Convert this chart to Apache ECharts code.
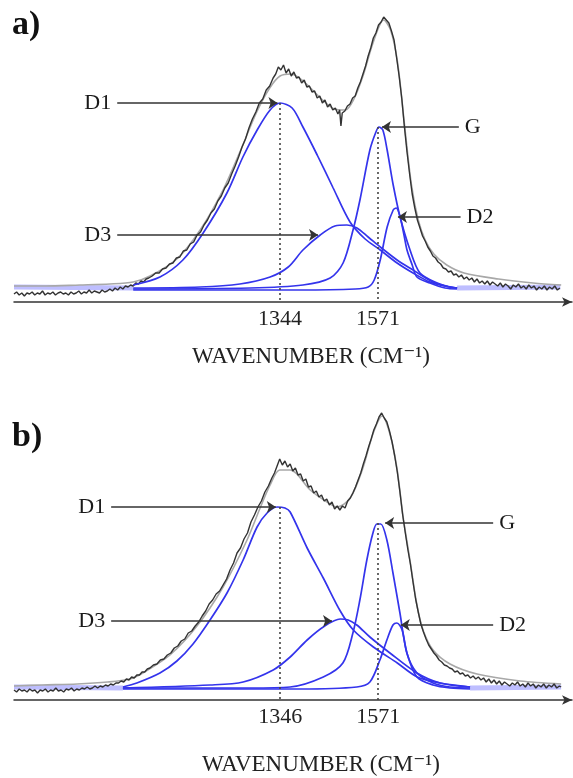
<!DOCTYPE html>
<html><head><meta charset="utf-8">
<script src="https://cdn.jsdelivr.net/npm/echarts@6/dist/echarts.min.js"></script>
<style>html,body{margin:0;padding:0;background:#fff}#c{width:573px;height:778px}</style>
</head><body><div id="c"></div>
<script>
// ---------- text ----------
const panelLabels = ['a)', 'b)'];
const axisTitle = 'WAVENUMBER (CM\u207B\u00B9)';
const tickValuesA = [1344, 1571];
const tickValuesB = [1346, 1571];
const peakNames = ['D1', 'G', 'D3', 'D2'];

// ---------- panel a data: [wavenumber, intensity] ----------
const spectrumA = [[728,8],[734,10],[740,7],[746,9],[752,6],[758,9],[764,8],[770,10],[776,7],[782,9],[788,8],[794,11],[800,7],[806,9],[812,8],[818,10],[824,7],[830,9],[836,10],[842,8],[848,9],[854,7],[860,10],[866,8],[872,9],[878,11],[884,8],[890,10],[896,9],[902,12],[908,9],[914,11],[920,10],[926,9],[932,12],[938,10],[944,11],[950,13],[956,11],[962,14],[968,12],[974,15],[980,13],[986,16],[992,15],[998,17],[1004,16],[1010,19],[1016,18],[1022,21],[1028,20],[1034,23],[1040,24],[1048,26],[1056,29],[1064,29],[1072,33],[1080,34],[1088,38],[1096,39],[1104,44],[1112,45],[1120,51],[1128,52],[1136,58],[1144,60],[1152,67],[1160,70],[1168,77],[1176,82],[1184,89],[1192,93],[1200,101],[1208,106],[1216,114],[1224,119],[1232,128],[1240,136],[1248,145],[1256,155],[1264,163],[1272,174],[1280,183],[1288,190],[1296,199],[1304,203],[1312,212],[1320,216],[1328,224],[1334,228],[1340,235],[1346,232],[1352,237],[1358,229],[1364,233],[1370,226],[1376,230],[1382,224],[1388,225],[1394,219],[1400,222],[1406,215],[1412,216],[1418,210],[1424,211],[1430,204],[1436,206],[1442,199],[1448,202],[1454,195],[1460,198],[1466,192],[1472,194],[1478,188],[1482,192],[1485,176],[1488,189],[1494,191],[1500,196],[1506,198],[1512,204],[1518,206],[1524,214],[1530,220],[1536,228],[1542,236],[1548,246],[1554,254],[1560,264],[1566,269],[1572,277],[1578,280],[1584,285],[1590,282],[1596,279],[1602,271],[1608,262],[1614,244],[1620,225],[1626,203],[1632,175],[1638,150],[1644,128],[1650,108],[1656,94],[1662,82],[1668,74],[1674,66],[1680,61],[1686,55],[1692,51],[1698,46],[1704,44],[1710,40],[1716,38],[1722,34],[1728,33],[1734,30],[1740,31],[1746,27],[1752,28],[1758,25],[1764,27],[1770,23],[1776,25],[1782,22],[1788,24],[1794,20],[1800,23],[1806,19],[1812,21],[1818,18],[1824,21],[1830,17],[1836,20],[1842,18],[1848,16],[1854,19],[1860,15],[1866,18],[1872,16],[1878,13],[1884,17],[1890,15],[1896,18],[1902,14],[1908,16],[1914,13],[1920,17],[1926,14],[1932,16],[1938,12],[1944,15],[1950,13],[1956,16],[1962,12],[1968,15],[1974,13],[1980,16],[1986,12],[1992,14]];
const envelopeA = [[728,16],[800,16],[880,17],[950,18],[1004,20],[1043,26],[1105,43],[1159,72],[1212,112],[1251,150],[1290,190],[1320,214],[1344,226],[1370,228],[1400,220],[1440,203],[1470,193],[1495,192],[1515,203],[1536,226],[1560,260],[1584,282],[1600,272],[1616,240],[1632,178],[1648,118],[1664,82],[1680,62],[1700,48],[1730,37],[1770,29],[1850,23],[1930,19],[1995,17]];
const baselineA = [[728,15],[1004,14],[1005,'-'],[1753,'-'],[1754,14],[1993,15]];
const d1A = [[1004,17],[1066,25],[1119,42],[1166,69],[1221,109],[1258,145],[1291,172],[1321,192],[1344,199],[1372,194],[1397,175],[1430,147],[1467,114],[1506,80],[1541,63],[1576,52],[1615,39],[1652,29],[1691,20],[1726,16],[1754,14]];
const d3A = [[1004,14],[1159,15],[1251,18],[1321,25],[1363,35],[1397,52],[1437,67],[1471,76],[1499,77],[1522,74],[1548,65],[1576,55],[1615,42],[1652,32],[1698,20],[1726,16],[1754,14]];
const gA = [[1004,13],[1275,14],[1397,17],[1460,24],[1490,39],[1513,72],[1529,102],[1552,152],[1566,170],[1573,175],[1582,172],[1592,152],[1606,117],[1622,85],[1645,52],[1668,29],[1708,19],[1738,15],[1754,14]];
const d2A = [[1004,12],[1390,12],[1518,13],[1548,15],[1562,22],[1576,42],[1592,75],[1606,92],[1613,94],[1622,85],[1631,67],[1638,52],[1650,37],[1661,25],[1691,19],[1726,14],[1754,13]];
const arrowsA = [[[967,199],[1338,199]], [[1758,175],[1580,175]], [[967,67],[1432,67]], [[1762,85],[1617,85]]];
const dottedA = [[1344,199],[1571,175]];

// ---------- panel b data ----------
const spectrumB = [[735,10],[741,8],[747,11],[753,9],[759,10],[765,8],[771,11],[777,9],[783,10],[789,7],[795,10],[801,9],[807,11],[813,8],[819,10],[825,9],[831,12],[837,9],[843,10],[849,8],[855,11],[861,10],[867,12],[873,9],[879,11],[885,10],[891,12],[897,11],[903,13],[909,11],[915,12],[921,14],[927,12],[933,14],[939,13],[945,15],[951,14],[957,16],[963,15],[969,17],[975,17],[981,19],[987,18],[993,21],[999,20],[1005,23],[1011,22],[1017,25],[1023,25],[1029,28],[1035,28],[1041,31],[1047,32],[1055,35],[1063,36],[1071,40],[1079,41],[1087,45],[1095,47],[1103,52],[1111,54],[1119,59],[1127,61],[1135,67],[1143,69],[1151,74],[1159,78],[1167,84],[1175,89],[1183,96],[1191,100],[1199,106],[1207,109],[1215,115],[1223,121],[1231,130],[1239,137],[1247,147],[1255,152],[1263,161],[1271,167],[1279,178],[1287,185],[1295,193],[1303,199],[1311,208],[1319,214],[1327,222],[1333,227],[1339,234],[1345,241],[1351,235],[1357,239],[1363,233],[1369,236],[1375,229],[1381,232],[1387,225],[1393,226],[1399,219],[1405,221],[1411,213],[1417,214],[1423,207],[1429,209],[1435,203],[1441,205],[1447,199],[1453,201],[1459,195],[1465,198],[1471,191],[1477,194],[1483,190],[1489,194],[1495,192],[1501,199],[1507,202],[1513,207],[1519,213],[1525,220],[1531,227],[1537,236],[1543,244],[1549,253],[1555,261],[1561,270],[1567,276],[1573,283],[1579,287],[1585,282],[1591,278],[1597,269],[1603,258],[1609,244],[1615,228],[1621,208],[1627,186],[1633,168],[1639,151],[1645,136],[1651,118],[1657,101],[1663,88],[1669,76],[1675,68],[1681,61],[1687,55],[1693,51],[1699,47],[1705,44],[1711,40],[1717,38],[1723,35],[1729,34],[1735,32],[1741,31],[1747,28],[1753,29],[1759,26],[1765,27],[1771,24],[1777,25],[1783,22],[1789,24],[1795,21],[1801,23],[1807,20],[1813,22],[1819,18],[1825,21],[1831,17],[1837,20],[1843,16],[1849,19],[1855,15],[1861,18],[1867,16],[1873,14],[1879,17],[1885,15],[1891,18],[1897,14],[1903,16],[1909,13],[1915,17],[1921,14],[1927,16],[1933,12],[1939,15],[1945,13],[1951,16],[1957,12],[1963,15],[1969,13],[1975,16],[1981,12],[1987,14],[1991,13]];
const envelopeB = [[735,14],[800,15],[880,16],[950,18],[1000,21],[1031,27],[1093,45],[1155,74],[1215,113],[1270,160],[1300,192],[1323,215],[1345,230],[1369,230],[1415,210],[1450,199],[1477,193],[1507,202],[1536,232],[1559,266],[1580,284],[1598,266],[1614,232],[1628,184],[1644,140],[1660,95],[1674,70],[1697,50],[1736,36],[1798,26],[1897,19],[1991,16]];
const baselineB = [[735,13],[985,12],[986,'-'],[1781,'-'],[1782,12],[1991,13]];
const d1B = [[985,13],[1017,17],[1070,27],[1109,39],[1146,56],[1185,80],[1224,107],[1261,140],[1293,173],[1316,187],[1339,193],[1357,192],[1369,188],[1408,152],[1445,122],[1484,89],[1514,70],[1560,53],[1615,37],[1661,23],[1713,17],[1782,13]];
const d3B = [[985,12],[1185,15],[1261,18],[1330,30],[1369,43],[1408,60],[1445,73],[1484,81],[1502,80],[1522,75],[1552,63],[1598,47],[1660,27],[1713,17],[1782,13]];
const gB = [[985,12],[1277,12],[1369,13],[1445,23],[1490,37],[1513,67],[1529,100],[1545,140],[1559,167],[1568,176],[1577,176],[1591,160],[1605,127],[1621,87],[1637,47],[1660,27],[1697,17],[1736,13],[1782,12]];
const d2B = [[985,11],[1392,11],[1522,13],[1552,18],[1575,40],[1591,60],[1605,75],[1614,77],[1626,70],[1637,47],[1660,23],[1697,15],[1736,12],[1782,11]];
const arrowsB = [[[958,193],[1336,193]], [[1835,177],[1587,177]], [[958,79],[1465,79]], [[1835,75],[1623,75]]];
const dottedB = [[1346,193],[1571,177]];

// ---------- build chart ----------
const SERIF = 'Liberation Serif, DejaVu Serif, serif';
const BLUE = '#3434ec';
const panels = [
  {ticks: tickValuesA, min: 728, max: 2020, top: 2, spec: spectrumA, env: envelopeA, base: baselineA,
   peaks: [d1A, gA, d3A, d2A], arrows: arrowsA, dotted: dottedA, titleX: 311, titleY: 357, labY: 28},
  {ticks: tickValuesB, min: 735, max: 2016, top: 400, spec: spectrumB, env: envelopeB, base: baselineB,
   peaks: [d1B, gB, d3B, d2B], arrows: arrowsB, dotted: dottedB, titleX: 321, titleY: 765, labY: 440}
];

const grid = [], xAxis = [], yAxis = [], series = [], graphic = [];
panels.forEach((p, i) => {
  grid.push({left: 14, top: p.top, width: 558, height: 300});
  xAxis.push({type: 'value', gridIndex: i, min: p.min, max: p.max,
    splitLine: {show: false}, axisTick: {show: false},
    axisLine: {show: true, lineStyle: {color: '#333', width: 1.5}, symbol: ['none', 'arrow'], symbolSize: [7, 10]},
    axisLabel: {customValues: p.ticks, formatter: v => String(v), color: '#222', fontFamily: SERIF, fontSize: 22, margin: 6}});
  yAxis.push({type: 'value', gridIndex: i, min: 0, max: 300, show: false});
  const common = {type: 'line', xAxisIndex: i, yAxisIndex: i, showSymbol: false, symbol: 'none', animation: false, silent: true};
  series.push(Object.assign({}, common, {data: p.base, connectNulls: false, lineStyle: {color: 'rgba(110,110,255,0.45)', width: 5}}));
  series.push(Object.assign({}, common, {data: p.env, smooth: 0.3, lineStyle: {color: '#a8a8a8', width: 1.6},
    markLine: {silent: true, animation: false, symbol: 'none', label: {show: false},
      lineStyle: {color: '#444', width: 1.6, type: [2, 3]},
      data: p.dotted.map(d => [{coord: [d[0], d[1]]}, {coord: [d[0], 0]}])}}));
  series.push(Object.assign({}, common, {data: p.spec, lineStyle: {color: '#333', width: 1.4}}));
  p.peaks.forEach((pk, k) => {
    const a = p.arrows[k];
    series.push(Object.assign({}, common, {data: pk, smooth: 0.3, lineStyle: {color: BLUE, width: 1.7},
      markLine: {silent: true, animation: false, symbol: ['none', 'arrow'], symbolSize: 9,
        lineStyle: {color: '#333', width: 1.5, type: 'solid'},
        label: {show: true, position: 'start', formatter: '{b}', distance: 6, color: '#1a1a1a', fontFamily: SERIF, fontSize: 22},
        data: [[{name: peakNames[k], coord: a[0]}, {coord: a[1]}]]}}));
  });
  graphic.push({type: 'text', left: 12, top: p.labY - 20, style: {text: panelLabels[i], font: 'bold 34px ' + SERIF, fill: '#111'}});
  graphic.push({type: 'text', x: p.titleX, y: p.titleY, style: {text: axisTitle, font: '23px ' + SERIF, fill: '#222', textAlign: 'center', textVerticalAlign: 'middle'}});
});

const chart = echarts.init(document.getElementById('c'), null, {renderer: 'canvas'});
chart.setOption({backgroundColor: '#fff', animation: false, grid, xAxis, yAxis, series, graphic});
</script></body></html>
